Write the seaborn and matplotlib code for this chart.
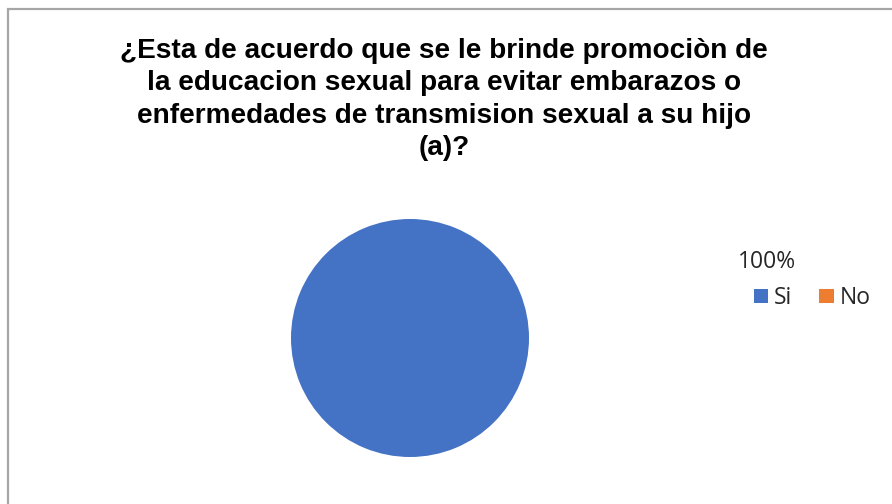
import matplotlib
matplotlib.use("Agg")
import matplotlib.pyplot as plt
import seaborn as sns
from matplotlib.patches import Rectangle, Patch

# Datos
categorias = ["Si", "No"]
valores = [100, 0]
colores = ["#4472C4", "#ED7D31"]
titulo = ("¿Esta de acuerdo que se le brinde promociòn de\n"
          "la educacion sexual para evitar embarazos o\n"
          "enfermedades de transmision sexual a su hijo\n"
          "(a)?")

sns.set_theme(style="white")
plt.rcParams["font.family"] = ["Liberation Sans", "DejaVu Sans"]

W, H = 892, 504
fig = plt.figure(figsize=(W / 100, H / 100), dpi=100)
fig.patch.set_facecolor("white")

# Borde del gráfico
fig.patches.append(Rectangle((8 / W, -0.1), 1.2, 1 - 9 / H + 0.1,
                             transform=fig.transFigure, fill=False,
                             edgecolor="#a6a6a6", linewidth=1.6))

# Pastel
cx, cy, r = 410, 338, 119
ax = fig.add_axes([(cx - r) / W, (H - cy - r) / H, 2 * r / W, 2 * r / H])
ax.pie(valores, colors=colores, startangle=90, counterclock=False,
       radius=1, wedgeprops=dict(linewidth=0))
ax.set_xlim(-1, 1)
ax.set_ylim(-1, 1)
ax.set_aspect("equal")
ax.axis("off")

# Título
fig.text(444 / W, 1 - 99.5 / H, titulo, ha="center", va="center",
         fontsize=20.2, fontweight="bold", linespacing=1.32, color="black")

# Etiqueta de porcentaje
total = sum(valores)
pct = f"{valores[0] / total * 100:.0f}%"
fig.text(767 / W, 1 - 262 / H, pct, ha="center", va="center",
         fontsize=16.5, color="#262626", family=["Open Sans", "DejaVu Sans"])

# Leyenda
handles = [Patch(facecolor=c, edgecolor="none") for c in colores]
fig.legend(handles, categorias, loc="center", bbox_to_anchor=(812 / W, 1 - 298 / H),
           ncol=2, frameon=False, handlelength=0.62, handleheight=0.62,
           handletextpad=0.25, columnspacing=1.2, borderpad=0, borderaxespad=0,
           prop={"family": ["Open Sans", "DejaVu Sans"], "size": 16.5})

fig.savefig("out.png", dpi=100)
